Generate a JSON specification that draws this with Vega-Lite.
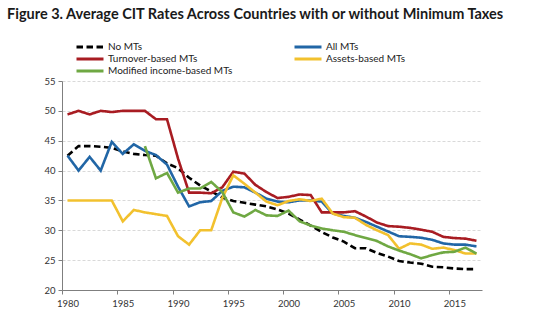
{
  "$schema": "https://vega.github.io/schema/vega-lite/v6.json",
  "width": 420,
  "height": 209,
  "autosize": {"type": "none"},
  "padding": {"left": 62, "top": 81, "right": 58, "bottom": 31},
  "background": "white",
  "title": {
    "text": "Figure 3. Average CIT Rates Across Countries with or without Minimum Taxes",
    "anchor": "start",
    "frame": "group",
    "font": "Lato",
    "fontSize": 14.5,
    "fontWeight": "bold",
    "color": "#1a1a1a",
    "dx": -55,
    "offset": 19
  },
  "config": {
    "view": {"stroke": null},
    "font": "Lato"
  },
  "data": {
    "values": [
      {"year":1980,"series":"No MTs","rate":42.5},{"year":1981,"series":"No MTs","rate":44.1},{"year":1982,"series":"No MTs","rate":44.1},{"year":1983,"series":"No MTs","rate":44.0},{"year":1984,"series":"No MTs","rate":43.8},{"year":1985,"series":"No MTs","rate":43.2},{"year":1986,"series":"No MTs","rate":42.8},{"year":1987,"series":"No MTs","rate":42.6},{"year":1988,"series":"No MTs","rate":42.5},{"year":1989,"series":"No MTs","rate":41.2},{"year":1990,"series":"No MTs","rate":40.4},{"year":1991,"series":"No MTs","rate":38.8},{"year":1992,"series":"No MTs","rate":37.5},{"year":1993,"series":"No MTs","rate":36.5},{"year":1994,"series":"No MTs","rate":35.5},{"year":1995,"series":"No MTs","rate":34.9},{"year":1996,"series":"No MTs","rate":34.6},{"year":1997,"series":"No MTs","rate":34.3},{"year":1998,"series":"No MTs","rate":34.0},{"year":1999,"series":"No MTs","rate":33.5},{"year":2000,"series":"No MTs","rate":32.8},{"year":2001,"series":"No MTs","rate":31.8},{"year":2002,"series":"No MTs","rate":30.8},{"year":2003,"series":"No MTs","rate":29.7},{"year":2004,"series":"No MTs","rate":28.8},{"year":2005,"series":"No MTs","rate":28.1},{"year":2006,"series":"No MTs","rate":27.0},{"year":2007,"series":"No MTs","rate":27.0},{"year":2008,"series":"No MTs","rate":26.2},{"year":2009,"series":"No MTs","rate":25.6},{"year":2010,"series":"No MTs","rate":24.85},{"year":2011,"series":"No MTs","rate":24.6},{"year":2012,"series":"No MTs","rate":24.4},{"year":2013,"series":"No MTs","rate":23.9},{"year":2014,"series":"No MTs","rate":23.8},{"year":2015,"series":"No MTs","rate":23.6},{"year":2016,"series":"No MTs","rate":23.5},{"year":2017,"series":"No MTs","rate":23.5},
      {"year":1980,"series":"All MTs","rate":42.5},{"year":1981,"series":"All MTs","rate":40.0},{"year":1982,"series":"All MTs","rate":42.3},{"year":1983,"series":"All MTs","rate":40.0},{"year":1984,"series":"All MTs","rate":44.8},{"year":1985,"series":"All MTs","rate":42.8},{"year":1986,"series":"All MTs","rate":44.4},{"year":1987,"series":"All MTs","rate":43.3},{"year":1988,"series":"All MTs","rate":42.6},{"year":1989,"series":"All MTs","rate":41.0},{"year":1990,"series":"All MTs","rate":37.3},{"year":1991,"series":"All MTs","rate":34.0},{"year":1992,"series":"All MTs","rate":34.7},{"year":1993,"series":"All MTs","rate":34.9},{"year":1994,"series":"All MTs","rate":36.6},{"year":1995,"series":"All MTs","rate":37.3},{"year":1996,"series":"All MTs","rate":37.2},{"year":1997,"series":"All MTs","rate":36.3},{"year":1998,"series":"All MTs","rate":35.3},{"year":1999,"series":"All MTs","rate":34.8},{"year":2000,"series":"All MTs","rate":34.7},{"year":2001,"series":"All MTs","rate":35.0},{"year":2002,"series":"All MTs","rate":35.0},{"year":2003,"series":"All MTs","rate":34.8},{"year":2004,"series":"All MTs","rate":32.8},{"year":2005,"series":"All MTs","rate":32.4},{"year":2006,"series":"All MTs","rate":32.1},{"year":2007,"series":"All MTs","rate":31.4},{"year":2008,"series":"All MTs","rate":30.6},{"year":2009,"series":"All MTs","rate":29.8},{"year":2010,"series":"All MTs","rate":29.0},{"year":2011,"series":"All MTs","rate":28.9},{"year":2012,"series":"All MTs","rate":28.75},{"year":2013,"series":"All MTs","rate":28.4},{"year":2014,"series":"All MTs","rate":27.8},{"year":2015,"series":"All MTs","rate":27.6},{"year":2016,"series":"All MTs","rate":27.6},{"year":2017,"series":"All MTs","rate":27.3},
      {"year":1980,"series":"Turnover-based MTs","rate":49.4},{"year":1981,"series":"Turnover-based MTs","rate":50.0},{"year":1982,"series":"Turnover-based MTs","rate":49.4},{"year":1983,"series":"Turnover-based MTs","rate":50.0},{"year":1984,"series":"Turnover-based MTs","rate":49.8},{"year":1985,"series":"Turnover-based MTs","rate":50.0},{"year":1986,"series":"Turnover-based MTs","rate":50.0},{"year":1987,"series":"Turnover-based MTs","rate":50.0},{"year":1988,"series":"Turnover-based MTs","rate":48.6},{"year":1989,"series":"Turnover-based MTs","rate":48.6},{"year":1990,"series":"Turnover-based MTs","rate":42.0},{"year":1991,"series":"Turnover-based MTs","rate":36.3},{"year":1992,"series":"Turnover-based MTs","rate":36.3},{"year":1993,"series":"Turnover-based MTs","rate":36.2},{"year":1994,"series":"Turnover-based MTs","rate":37.2},{"year":1995,"series":"Turnover-based MTs","rate":39.8},{"year":1996,"series":"Turnover-based MTs","rate":39.5},{"year":1997,"series":"Turnover-based MTs","rate":37.6},{"year":1998,"series":"Turnover-based MTs","rate":36.4},{"year":1999,"series":"Turnover-based MTs","rate":35.4},{"year":2000,"series":"Turnover-based MTs","rate":35.6},{"year":2001,"series":"Turnover-based MTs","rate":36.0},{"year":2002,"series":"Turnover-based MTs","rate":35.9},{"year":2003,"series":"Turnover-based MTs","rate":33.0},{"year":2004,"series":"Turnover-based MTs","rate":33.0},{"year":2005,"series":"Turnover-based MTs","rate":33.0},{"year":2006,"series":"Turnover-based MTs","rate":33.2},{"year":2007,"series":"Turnover-based MTs","rate":32.3},{"year":2008,"series":"Turnover-based MTs","rate":31.3},{"year":2009,"series":"Turnover-based MTs","rate":30.7},{"year":2010,"series":"Turnover-based MTs","rate":30.6},{"year":2011,"series":"Turnover-based MTs","rate":30.4},{"year":2012,"series":"Turnover-based MTs","rate":30.1},{"year":2013,"series":"Turnover-based MTs","rate":29.75},{"year":2014,"series":"Turnover-based MTs","rate":28.9},{"year":2015,"series":"Turnover-based MTs","rate":28.7},{"year":2016,"series":"Turnover-based MTs","rate":28.6},{"year":2017,"series":"Turnover-based MTs","rate":28.25},
      {"year":1980,"series":"Assets-based MTs","rate":35.0},{"year":1981,"series":"Assets-based MTs","rate":35.0},{"year":1982,"series":"Assets-based MTs","rate":35.0},{"year":1983,"series":"Assets-based MTs","rate":35.0},{"year":1984,"series":"Assets-based MTs","rate":35.0},{"year":1985,"series":"Assets-based MTs","rate":31.5},{"year":1986,"series":"Assets-based MTs","rate":33.4},{"year":1987,"series":"Assets-based MTs","rate":33.0},{"year":1988,"series":"Assets-based MTs","rate":32.7},{"year":1989,"series":"Assets-based MTs","rate":32.4},{"year":1990,"series":"Assets-based MTs","rate":29.0},{"year":1991,"series":"Assets-based MTs","rate":27.6},{"year":1992,"series":"Assets-based MTs","rate":30.0},{"year":1993,"series":"Assets-based MTs","rate":30.0},{"year":1994,"series":"Assets-based MTs","rate":35.4},{"year":1995,"series":"Assets-based MTs","rate":39.2},{"year":1996,"series":"Assets-based MTs","rate":37.8},{"year":1997,"series":"Assets-based MTs","rate":36.3},{"year":1998,"series":"Assets-based MTs","rate":34.8},{"year":1999,"series":"Assets-based MTs","rate":34.2},{"year":2000,"series":"Assets-based MTs","rate":34.9},{"year":2001,"series":"Assets-based MTs","rate":35.2},{"year":2002,"series":"Assets-based MTs","rate":34.9},{"year":2003,"series":"Assets-based MTs","rate":35.3},{"year":2004,"series":"Assets-based MTs","rate":32.8},{"year":2005,"series":"Assets-based MTs","rate":32.2},{"year":2006,"series":"Assets-based MTs","rate":32.1},{"year":2007,"series":"Assets-based MTs","rate":30.9},{"year":2008,"series":"Assets-based MTs","rate":30.0},{"year":2009,"series":"Assets-based MTs","rate":29.2},{"year":2010,"series":"Assets-based MTs","rate":26.9},{"year":2011,"series":"Assets-based MTs","rate":27.8},{"year":2012,"series":"Assets-based MTs","rate":27.6},{"year":2013,"series":"Assets-based MTs","rate":26.9},{"year":2014,"series":"Assets-based MTs","rate":27.1},{"year":2015,"series":"Assets-based MTs","rate":26.7},{"year":2016,"series":"Assets-based MTs","rate":26.1},{"year":2017,"series":"Assets-based MTs","rate":26.1},
      {"year":1987,"series":"Modified income-based MTs","rate":44.1},{"year":1988,"series":"Modified income-based MTs","rate":38.7},{"year":1989,"series":"Modified income-based MTs","rate":39.6},{"year":1990,"series":"Modified income-based MTs","rate":36.3},{"year":1991,"series":"Modified income-based MTs","rate":37.0},{"year":1992,"series":"Modified income-based MTs","rate":37.0},{"year":1993,"series":"Modified income-based MTs","rate":38.1},{"year":1994,"series":"Modified income-based MTs","rate":36.4},{"year":1995,"series":"Modified income-based MTs","rate":33.0},{"year":1996,"series":"Modified income-based MTs","rate":32.3},{"year":1997,"series":"Modified income-based MTs","rate":33.4},{"year":1998,"series":"Modified income-based MTs","rate":32.5},{"year":1999,"series":"Modified income-based MTs","rate":32.4},{"year":2000,"series":"Modified income-based MTs","rate":33.3},{"year":2001,"series":"Modified income-based MTs","rate":31.5},{"year":2002,"series":"Modified income-based MTs","rate":30.8},{"year":2003,"series":"Modified income-based MTs","rate":30.3},{"year":2004,"series":"Modified income-based MTs","rate":30.0},{"year":2005,"series":"Modified income-based MTs","rate":29.75},{"year":2006,"series":"Modified income-based MTs","rate":29.2},{"year":2007,"series":"Modified income-based MTs","rate":28.7},{"year":2008,"series":"Modified income-based MTs","rate":28.2},{"year":2009,"series":"Modified income-based MTs","rate":27.3},{"year":2010,"series":"Modified income-based MTs","rate":26.6},{"year":2011,"series":"Modified income-based MTs","rate":26.0},{"year":2012,"series":"Modified income-based MTs","rate":25.3},{"year":2013,"series":"Modified income-based MTs","rate":25.85},{"year":2014,"series":"Modified income-based MTs","rate":26.3},{"year":2015,"series":"Modified income-based MTs","rate":26.4},{"year":2016,"series":"Modified income-based MTs","rate":27.1},{"year":2017,"series":"Modified income-based MTs","rate":26.1}
    ]
  },
  "mark": {"type": "line", "strokeWidth": 2.6},
  "encoding": {
    "x": {
      "field": "year",
      "type": "quantitative",
      "scale": {"domain": [1979.5, 2017.5], "nice": false, "zero": false},
      "axis": {
        "title": null,
        "values": [1980, 1985, 1990, 1995, 2000, 2005, 2010, 2015],
        "format": "d",
        "grid": false,
        "tickOffset": -5.53,
        "labelOffset": 5.53,
        "tickSize": 4,
        "tickColor": "#7f7f7f",
        "domainColor": "#7f7f7f",
        "labelFont": "Lato",
        "labelFontSize": 9.5,
        "labelColor": "#333333",
        "labelPadding": 4
      }
    },
    "y": {
      "field": "rate",
      "type": "quantitative",
      "scale": {"domain": [20, 55], "nice": false, "zero": false},
      "axis": {
        "title": null,
        "values": [20, 25, 30, 35, 40, 45, 50, 55],
        "grid": true,
        "gridColor": "#d9d9d9",
        "gridDash": [3, 2],
        "gridWidth": 1,
        "tickSize": 4,
        "tickColor": "#7f7f7f",
        "domainColor": "#7f7f7f",
        "labelFont": "Lato",
        "labelFontSize": 9.5,
        "labelColor": "#333333",
        "labelPadding": 3
      }
    },
    "color": {
      "field": "series",
      "type": "nominal",
      "scale": {
        "domain": ["No MTs", "Turnover-based MTs", "Modified income-based MTs", "All MTs", "Assets-based MTs"],
        "range": ["#000000", "#a81c22", "#6fa843", "#2166a6", "#f2c12e"]
      },
      "legend": {
        "title": null,
        "orient": "none",
        "legendX": 22,
        "legendY": -40,
        "columns": 2,
        "columnPadding": 55,
        "rowPadding": 0,
        "symbolType": "M-3,0H3",
        "symbolSize": 81,
        "symbolStrokeWidth": 3,
        "labelFont": "Lato",
        "labelFontSize": 10,
        "labelColor": "#222222",
        "labelOffset": 12
      }
    },
    "strokeDash": {
      "field": "series",
      "type": "nominal",
      "scale": {
        "domain": ["No MTs", "Turnover-based MTs", "Modified income-based MTs", "All MTs", "Assets-based MTs"],
        "range": [[6.5, 3.5], [1, 0], [1, 0], [1, 0], [1, 0]]
      },
      "legend": null
    }
  }
}
